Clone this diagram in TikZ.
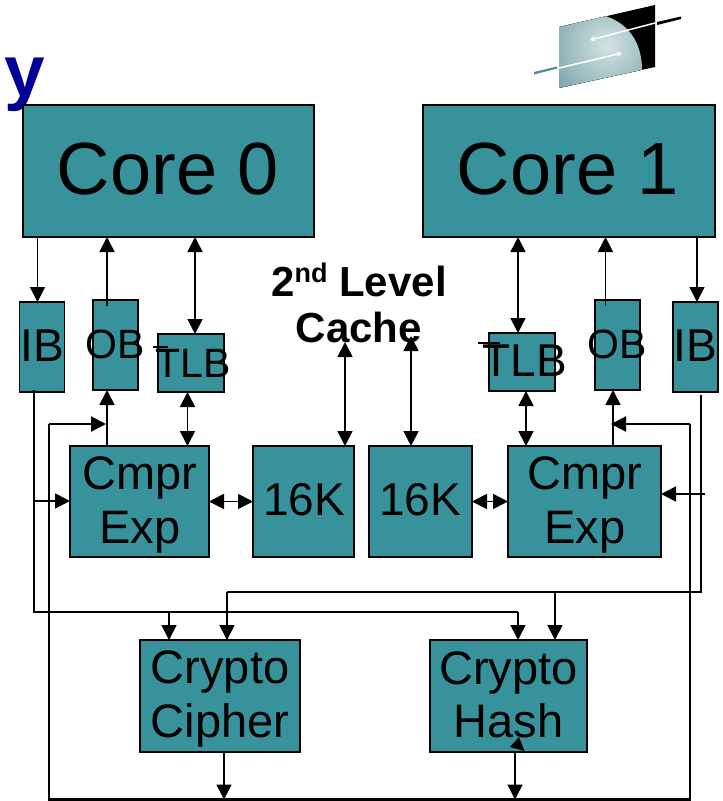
\documentclass[tikz,border=0pt]{standalone}
\usepackage{fontspec}
\setmainfont{Liberation Sans}
\usetikzlibrary{arrows.meta}
\definecolor{boxteal}{HTML}{38929C}
\definecolor{titleblue}{HTML}{000099}
\definecolor{logoteal}{HTML}{588E96}
\definecolor{logolight}{HTML}{D5E3E3}
\tikzset{
  unit/.style={draw=black,fill=boxteal,line width=1.5pt,rectangle,inner sep=0pt,outer sep=0pt},
  lab/.style={inner sep=0pt,outer sep=0pt,align=center,text=black},
  bigtext/.style={lab,font=\fontsize{74}{74}\selectfont},
  midtext/.style={lab,font=\fontsize{47}{53.5}\selectfont},
  cachetext/.style={lab,font=\fontsize{42}{46}\selectfont\bfseries},
  headtip/.style={-{Triangle[length=15pt,width=15pt]}},
  flow/.style={line width=1.7pt,headtip},
  both/.style={line width=1.7pt,{Triangle[length=15pt,width=15pt]}-{Triangle[length=15pt,width=15pt]}},
  wire/.style={line width=1.7pt},
  busline/.style={line width=2.2pt},
  busflow/.style={line width=2.2pt,headtip},
}
\begin{document}
\begin{tikzpicture}[x=1pt,y=-1pt]
\useasboundingbox (0,0) rectangle (723,801);

% stray title letter
\node[lab,anchor=base west,text=titleblue,font=\fontsize{73}{73}\selectfont\bfseries] (title) at (4.5,96.5) {y};

% logo
\begin{scope}
  \clip (559,27) -- (655,5) -- (655,67) -- (559,88) -- cycle;
  \fill[black] (555,0) rectangle (660,90);
  \clip (550,0) -- (602,15) .. controls (628,22) and (642,42) .. (642,70) -- (642,95) -- (550,95) -- cycle;
  \fill[inner color=logolight,outer color=logoteal] (607,45) circle (88);
\end{scope}
\fill[boxteal!70!gray] (534,72) -- (557,66.5) -- (557,68.5) -- (534,74.5) -- cycle;
\fill[black] (657,22) -- (681,16.5) -- (681,19) -- (657,25) -- cycle;
\coordinate (lw0) at (559,68);
\coordinate (lw1) at (622,53);
\coordinate (uw0) at (655,23);
\coordinate (uw1) at (590,40);
\draw[white,line width=1.5pt,-{Stealth[length=5pt,width=6pt]}] (lw0) -- (lw1);
\draw[white,line width=1.5pt,-{Stealth[length=5pt,width=6pt]}] (uw0) -- (uw1);

% boxes
\node[unit,minimum width=291pt,minimum height=132pt] (core0) at (168.5,171) {};
\node[unit,minimum width=292pt,minimum height=132pt] (core1) at (569,171) {};
\node[unit,minimum width=45pt,minimum height=90pt] (ib0) at (42,347) {};
\node[unit,minimum width=45pt,minimum height=90pt] (ob0) at (115.5,345) {};
\node[unit,minimum width=66pt,minimum height=58pt] (tlb0) at (191,363) {};
\node[unit,minimum width=66pt,minimum height=58pt] (tlb1) at (522,362) {};
\node[unit,minimum width=45pt,minimum height=90pt] (ob1) at (617.5,345) {};
\node[unit,minimum width=45pt,minimum height=90pt] (ib1) at (695.5,347) {};
\node[unit,minimum width=139pt,minimum height=111pt] (cx0) at (139.5,501.5) {};
\node[unit,minimum width=101pt,minimum height=111pt] (k0) at (303.5,501.5) {};
\node[unit,minimum width=103pt,minimum height=111pt] (k1) at (420.5,501.5) {};
\node[unit,minimum width=153pt,minimum height=111pt] (cx1) at (584.5,501.5) {};
\node[unit,minimum width=160pt,minimum height=112pt] (cc) at (220,696) {};
\node[unit,minimum width=157pt,minimum height=112pt] (ch) at (508.5,696) {};

% vertical positions of the connectors
\coordinate (a) at (37.5,0);
\coordinate (b) at (107,0);
\coordinate (c) at (195,0);
\coordinate (d) at (518,0);
\coordinate (e) at (605.5,0);
\coordinate (f) at (697,0);
\coordinate (g) at (187.5,0);
\coordinate (h) at (526,0);
\coordinate (i) at (613,0);
\coordinate (j) at (345,0);
\coordinate (k) at (411,0);
\coordinate (obtop) at (0,306);

% core links
\draw[flow] (a |- core0.south) -- (a |- ib0.north);
\draw[flow] (b |- obtop) -- (b |- core0.south);
\draw[both] (c |- core0.south) -- (c |- tlb0.north);
\draw[both] (d |- core1.south) -- (d |- tlb1.north);
\draw[flow] (e |- obtop) -- (e |- core1.south);
\draw[flow] (f |- core1.south) -- (f |- ib1.north);

% compress links
\draw[flow] (b |- cx0.north) -- (b |- ob0.south);
\draw[both] (g |- tlb0.south) -- (g |- cx0.north);
\draw[both] (h |- tlb1.south) -- (h |- cx1.north);
\draw[flow] (i |- cx1.north) -- (i |- ob1.south);

% cache links
\coordinate (jt) at (345,342);
\coordinate (kt) at (411,336);
\draw[both] (jt) -- (j |- k0.north);
\draw[both] (kt) -- (k |- k1.north);
\draw[both] (cx0.east) -- (k0.west);
\draw[both] (k1.east) -- (cx1.west |- k1.east);

% input bus from the left IB
\coordinate (ibl) at (34,390);
\coordinate (ly) at (0,612);
\coordinate (cc1) at (169,0);
\draw[wire] (ibl) -- (ibl |- ly) -- (d |- ly);
\draw[flow] (d |- ly) -- (d |- ch.north);
\draw[flow] (cc1 |- ly) -- (cc1 |- cc.north);
\coordinate (brl) at (34,501);
\draw[flow] (brl) -- (brl -| cx0.west);

% input bus from the right IB
\coordinate (ibr) at (701,395);
\coordinate (ry) at (0,592);
\coordinate (cc2) at (227,0);
\coordinate (ch2) at (555,0);
\draw[wire] (ibr) -- (ibr |- ry) -- (cc2 |- ry);
\draw[flow] (cc2 |- ry) -- (cc2 |- cc.north);
\draw[flow] (ch2 |- ry) -- (ch2 |- ch.north);
\coordinate (brr) at (705,494);
\draw[flow] (brr) -- (brr -| cx1.east);

% output bus
\coordinate (blx) at (49,424);
\coordinate (brx) at (690,424);
\coordinate (bot) at (0,799.5);
\coordinate (ltip) at (106,424);
\coordinate (rtip) at (611,424);
\draw[busflow] (ltip -| blx) -- (ltip);
\draw[busflow] (rtip -| brx) -- (rtip);
\draw[busline] (blx) -- (blx |- bot) -- (brx |- bot) -- (brx);
\coordinate (ccout) at (224,0);
\coordinate (chout) at (515,0);
\draw[flow] (ccout |- cc.south) -- (ccout |- bot);
\draw[flow] (chout |- ch.south) -- (chout |- bot);
\fill[black] (519,737) -- (510,747) -- (524.5,751) -- cycle;

% stray strokes beside the TLB labels
\coordinate (s0) at (152.5,347);
\coordinate (s1) at (168,347);
\coordinate (s2) at (478,343);
\coordinate (s3) at (500,343);
\draw[line width=1.4pt] (s0) -- (s1);
\draw[line width=1.6pt] (s2) -- (s3);

% labels
\node[bigtext,anchor=base] (lc0) at (168,194.5) {Core 0};
\node[bigtext,anchor=base] (lc1) at (568,194.5) {Core 1};
\node[lab,anchor=base,font=\fontsize{46}{46}\selectfont] (lib0) at (42.5,361) {IB};
\node[lab,anchor=base,font=\fontsize{41}{41}\selectfont] (lob0) at (115,358) {OB};
\node[lab,anchor=base,font=\fontsize{41}{41}\selectfont] (ltl0) at (193,377) {TLB};
\node[lab,anchor=base,font=\fontsize{46}{46}\selectfont] (ltl1) at (524.5,376) {TLB};
\node[lab,anchor=base,font=\fontsize{41}{41}\selectfont] (lob1) at (617,358) {OB};
\node[lab,anchor=base,font=\fontsize{46}{46}\selectfont] (lib1) at (695.5,361) {IB};
\node[midtext] (lcx0) at (140,505) {Cmpr\\Exp};
\node[midtext] (lcx1) at (585,505) {Cmpr\\Exp};
\node[lab,anchor=base,font=\fontsize{46}{46}\selectfont] (lk0) at (304,515) {16K};
\node[lab,anchor=base,font=\fontsize{46}{46}\selectfont] (lk1) at (420,515) {16K};
\node[midtext] (lcc) at (220,699) {Crypto\\Cipher};
\node[midtext] (lch) at (508.5,695) {Crypto\\Hash};
\node[cachetext] (lcache) at (359,303) {2\raisebox{14pt}{\fontsize{27}{27}\selectfont nd} Level\\Cache};
\end{tikzpicture}
\end{document}
